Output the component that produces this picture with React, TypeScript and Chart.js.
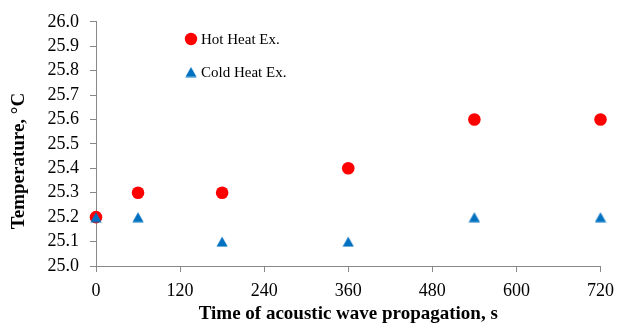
import React, { useEffect, useRef } from "react";
import { Chart, registerables } from "chart.js";

Chart.register(...registerables);

const times = [0, 60, 180, 360, 540, 720];
const hotValues = [25.2, 25.3, 25.3, 25.4, 25.6, 25.6];
const coldValues = [25.2, 25.2, 25.1, 25.1, 25.2, 25.2];
const hotLabel = "Hot Heat Ex.";
const coldLabel = "Cold Heat Ex.";
const xTitle = "Time of acoustic wave propagation, s";
const yTitle = "Temperature, °C";
const xMin = 0;
const xMax = 720;
const xStep = 120;
const yMin = 25.0;
const yMax = 26.0;
const yStep = 0.1;

const FONT = "'Liberation Serif', 'Times New Roman', serif";
const RED = "#FF0000";
const BLUE = "#0070C0";
const AXIS = "#888888";

Chart.defaults.font.family = FONT;

function makeTriangle(): HTMLCanvasElement {
  const c = document.createElement("canvas");
  c.width = 12;
  c.height = 11;
  const ctx = c.getContext("2d")!;
  ctx.fillStyle = BLUE;
  ctx.beginPath();
  ctx.moveTo(6, 0.5);
  ctx.lineTo(11.6, 10.5);
  ctx.lineTo(0.4, 10.5);
  ctx.closePath();
  ctx.fill();
  return c;
}

export default function App() {
  const ref = useRef<HTMLCanvasElement | null>(null);

  useEffect(() => {
    if (!ref.current) return;
    const tri = makeTriangle();

    const overlay = {
      id: "overlay",
      afterDraw(chart: any) {
        const ctx = chart.ctx;
        const area = chart.chartArea;
        ctx.save();
        ctx.fillStyle = "#000";
        ctx.font = `bold 19px ${FONT}`;
        ctx.textAlign = "center";
        ctx.textBaseline = "middle";
        ctx.fillText(xTitle, (area.left + area.right) / 2, 314);
        ctx.save();
        ctx.translate(19, 161);
        ctx.rotate(-Math.PI / 2);
        ctx.fillText(yTitle, 0, 0);
        ctx.restore();
        ctx.fillStyle = RED;
        ctx.beginPath();
        ctx.arc(191, 39, 6.2, 0, Math.PI * 2);
        ctx.fill();
        ctx.drawImage(tri, 191 - tri.width / 2, 72 - tri.height / 2);
        ctx.fillStyle = "#000";
        ctx.font = `15px ${FONT}`;
        ctx.textAlign = "left";
        ctx.fillText(hotLabel, 201, 40);
        ctx.fillText(coldLabel, 201, 73);
        ctx.restore();
      },
    };

    const chart = new Chart(ref.current, {
      type: "scatter",
      data: {
        datasets: [
          {
            label: hotLabel,
            data: times.map((t, i) => ({ x: t, y: hotValues[i] })),
            backgroundColor: RED,
            borderColor: RED,
            borderWidth: 0,
            pointRadius: 6.3,
            pointStyle: "circle",
            clip: false as any,
            order: 2,
          },
          {
            label: coldLabel,
            data: times.map((t, i) => ({ x: t, y: coldValues[i] })),
            backgroundColor: BLUE,
            borderColor: BLUE,
            borderWidth: 0,
            pointStyle: tri as any,
            clip: false as any,
            order: 1,
          },
        ],
      },
      options: {
        animation: false,
        responsive: false,
        events: [],
        layout: { padding: { top: 20, right: 18, left: 0, bottom: 0 } },
        plugins: {
          legend: { display: false },
          tooltip: { enabled: false },
        },
        scales: {
          x: {
            type: "linear",
            min: xMin,
            max: xMax,
            afterFit(scale: any) {
              scale.height = 58;
            },
            ticks: {
              stepSize: xStep,
              padding: 8,
              autoSkip: false,
              color: "#000",
              font: { family: FONT, size: 18 },
              maxRotation: 0,
            },
            grid: {
              drawOnChartArea: false,
              drawTicks: true,
              tickLength: 6,
              color: AXIS,
            },
            border: { color: AXIS, width: 1 },
          },
          y: {
            type: "linear",
            min: yMin,
            max: yMax,
            afterFit(scale: any) {
              scale.width = 96;
            },
            ticks: {
              stepSize: yStep,
              padding: 11,
              autoSkip: false,
              color: "#000",
              font: { family: FONT, size: 18 },
              callback: (v: any) => Number(v).toFixed(1),
            },
            grid: {
              drawOnChartArea: false,
              drawTicks: true,
              tickLength: 6,
              color: AXIS,
            },
            border: { color: AXIS, width: 1 },
          },
        },
      },
      plugins: [overlay],
    });
    return () => chart.destroy();
  }, []);

  return (
    <div style={{ position: "absolute", left: 0, top: 0, width: 622, height: 324, background: "#fff" }}>
      <canvas ref={ref} width={622} height={324} style={{ width: 622, height: 324 }} />
    </div>
  );
}
